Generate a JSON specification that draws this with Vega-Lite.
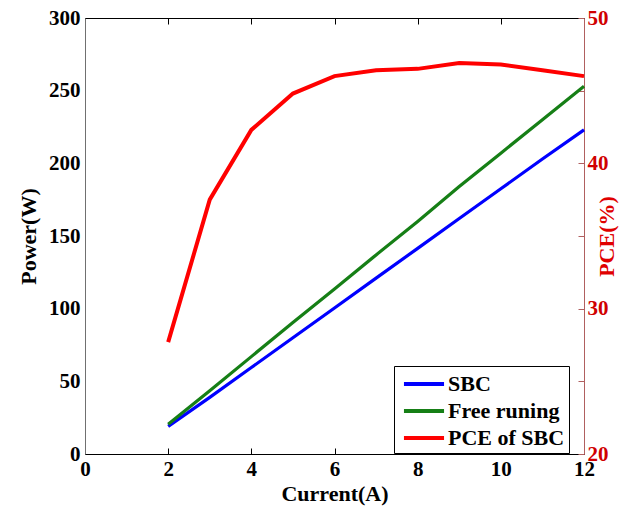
{
  "$schema": "https://vega.github.io/schema/vega-lite/v6.json",
  "autosize": "none",
  "width": 499,
  "height": 436,
  "padding": {"left": 85, "top": 18, "right": 57, "bottom": 52},
  "background": "white",
  "config": {
    "view": {"stroke": "#000000", "strokeWidth": 1},
    "axis": {
      "grid": false,
      "labelFont": "Liberation Serif",
      "labelFontWeight": "bold",
      "labelFontSize": 21,
      "labelColor": "#000000",
      "titleFont": "Liberation Serif",
      "titleFontWeight": "bold",
      "titleFontSize": 22,
      "titleColor": "#000000",
      "domainColor": "#000000",
      "tickColor": "#000000",
      "labelFlush": false,
      "labelOverlap": false
    }
  },
  "data": {
    "values": [
      {"I": 2, "series": "SBC", "value": 19},
      {"I": 3, "series": "SBC", "value": 39},
      {"I": 4, "series": "SBC", "value": 59.5},
      {"I": 5, "series": "SBC", "value": 80},
      {"I": 6, "series": "SBC", "value": 100.5},
      {"I": 7, "series": "SBC", "value": 121},
      {"I": 8, "series": "SBC", "value": 141.5},
      {"I": 9, "series": "SBC", "value": 162},
      {"I": 10, "series": "SBC", "value": 182.5},
      {"I": 11, "series": "SBC", "value": 203},
      {"I": 12, "series": "SBC", "value": 223},
      {"I": 2, "series": "Free runing", "value": 20.5},
      {"I": 3, "series": "Free runing", "value": 43.5},
      {"I": 4, "series": "Free runing", "value": 67},
      {"I": 5, "series": "Free runing", "value": 90.5},
      {"I": 6, "series": "Free runing", "value": 113.5},
      {"I": 7, "series": "Free runing", "value": 137},
      {"I": 8, "series": "Free runing", "value": 160},
      {"I": 9, "series": "Free runing", "value": 184},
      {"I": 10, "series": "Free runing", "value": 207},
      {"I": 11, "series": "Free runing", "value": 230},
      {"I": 12, "series": "Free runing", "value": 253},
      {"I": 2, "series": "PCE of SBC", "value": 27.7},
      {"I": 3, "series": "PCE of SBC", "value": 37.5},
      {"I": 4, "series": "PCE of SBC", "value": 42.3},
      {"I": 5, "series": "PCE of SBC", "value": 44.8},
      {"I": 6, "series": "PCE of SBC", "value": 46.0},
      {"I": 7, "series": "PCE of SBC", "value": 46.4},
      {"I": 8, "series": "PCE of SBC", "value": 46.5},
      {"I": 9, "series": "PCE of SBC", "value": 46.9},
      {"I": 10, "series": "PCE of SBC", "value": 46.8},
      {"I": 11, "series": "PCE of SBC", "value": 46.4},
      {"I": 12, "series": "PCE of SBC", "value": 46.0}
    ]
  },
  "layer": [
    {
      "transform": [{"filter": "datum.series != 'PCE of SBC'"}],
      "mark": {"type": "line", "strokeWidth": 3.2},
      "encoding": {
        "x": {
          "field": "I", "type": "quantitative",
          "scale": {"domain": [0, 12], "nice": false},
          "axis": {
            "orient": "bottom", "title": "Current(A)", "values": [0, 2, 4, 6, 8, 10, 12],
            "tickSize": -6, "labelPadding": 10, "titlePadding": 4
          }
        },
        "y": {
          "field": "value", "type": "quantitative",
          "scale": {"domain": [0, 300], "nice": false},
          "axis": {
            "orient": "left", "title": "Power(W)", "values": [0, 50, 100, 150, 200, 250, 300],
            "ticks": false, "labelPadding": 5, "titlePadding": 8, "domainColor": "#707070"
          }
        },
        "color": {
          "field": "series", "type": "nominal",
          "scale": {"domain": ["SBC", "Free runing", "PCE of SBC"], "range": ["#0000ff", "#167f16", "#ff0000"]},
          "legend": {
            "title": null,
            "orient": "none",
            "legendX": 309,
            "legendY": 348,
            "strokeColor": "#000000",
            "fillColor": "#ffffff",
            "padding": 4,
            "cornerRadius": 0,
            "labelFont": "Liberation Serif",
            "labelFontWeight": "bold",
            "labelFontSize": 22,
            "labelColor": "#000000",
            "symbolType": "M-1.67,0H1.67",
            "symbolSize": 576,
            "symbolStrokeWidth": 4,
            "symbolOffset": 12,
            "labelOffset": 10,
            "rowPadding": 2
          }
        }
      }
    },
    {
      "transform": [{"filter": "datum.series == 'PCE of SBC'"}],
      "mark": {"type": "line", "strokeWidth": 4},
      "encoding": {
        "x": {
          "field": "I", "type": "quantitative",
          "scale": {"domain": [0, 12], "nice": false},
          "axis": {
            "orient": "top", "title": null, "labels": false, "values": [0, 2, 4, 6, 8, 10, 12],
            "tickSize": -6
          }
        },
        "y": {
          "field": "value", "type": "quantitative",
          "scale": {"domain": [20, 50], "nice": false},
          "axis": {
            "orient": "right", "title": "PCE(%)", "titleAngle": 270, "titleColor": "#e00000",
            "values": [20, 25, 30, 35, 40, 45, 50],
            "labelExpr": "datum.value % 10 == 0 ? datum.label : ''",
            "labelColor": "#d00000", "tickSize": -6, "labelPadding": 9,
            "domainColor": "#b06060", "tickColor": "#b06060", "titlePadding": 10
          }
        },
        "color": {"field": "series", "type": "nominal"}
      }
    }
  ],
  "resolve": {"scale": {"y": "independent"}, "axis": {"x": "independent", "y": "independent"}}
}
